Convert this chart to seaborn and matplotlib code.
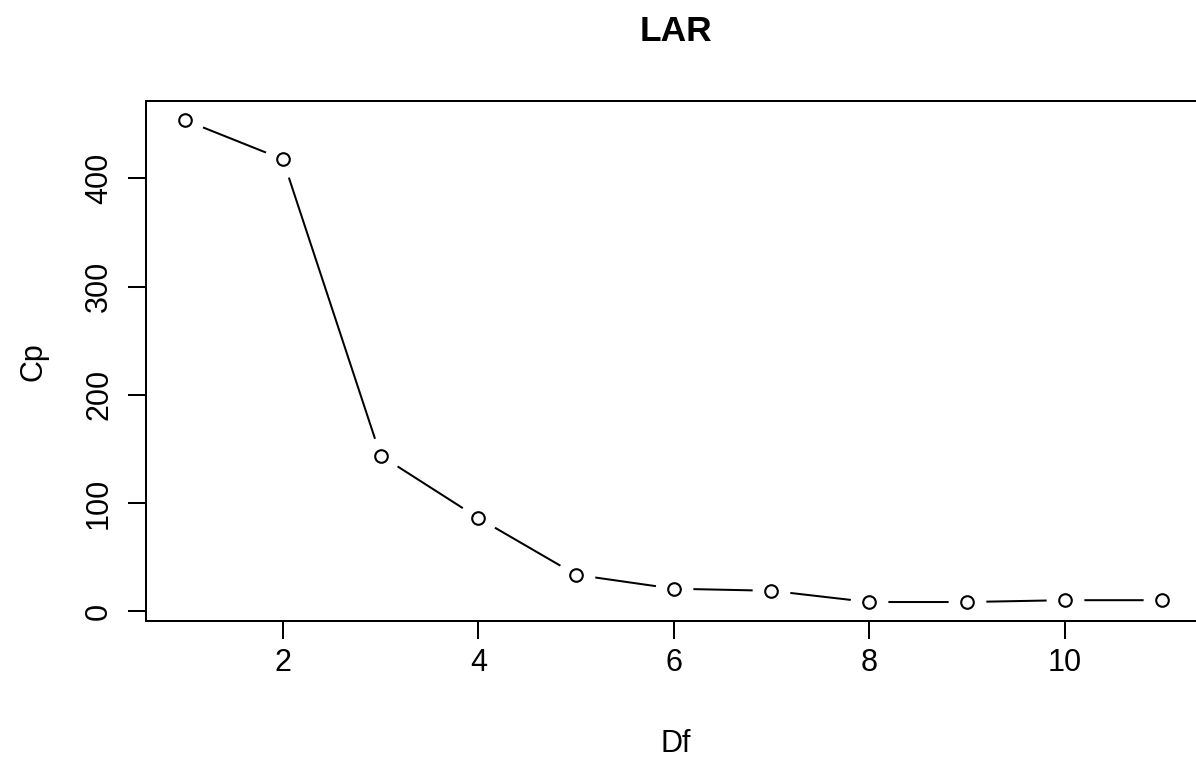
import numpy as np
import pandas as pd
import seaborn as sns
import matplotlib
matplotlib.use('Agg')
import matplotlib.pyplot as plt

df_steps = [1, 2, 3, 4, 5, 6, 7, 8, 9, 10, 11]
cp_values = [453.6, 417.6, 144.0, 86.3, 33.9, 21.0, 19.1, 8.7, 8.7, 10.4, 10.4]
x_ticks = [2, 4, 6, 8, 10]
y_ticks = [0, 100, 200, 300, 400]

sns.set_theme(style='white')
plt.rcParams['font.family'] = ['Liberation Sans', 'DejaVu Sans']

data = pd.DataFrame({'Df': df_steps, 'Cp': cp_values})

fig = plt.figure(figsize=(11.96, 7.71), dpi=100)
W, H = 1196, 771
left, right, bottom, top = 146, 1201.4, 621.3, 101
ax = fig.add_axes([left / W, 1 - bottom / H, (right - left) / W, (bottom - top) / H])

# R type="b": line with gaps around the points
sns.lineplot(data=data, x='Df', y='Cp', color='black', lw=1.45, ax=ax, zorder=1.5)
sns.scatterplot(data=data, x='Df', y='Cp', color='white', s=740, linewidth=0, ax=ax, zorder=2)
sns.scatterplot(data=data, x='Df', y='Cp', facecolor='white', edgecolor='black',
                s=82, linewidth=1.5, ax=ax, zorder=3)


def padded(vals):
    lo, hi = min(vals), max(vals)
    r = hi - lo
    return lo - 0.04 * r, hi + 0.04 * r


ax.set_xlim(padded(df_steps))
ax.set_ylim(padded(cp_values))
ax.set_xticks(x_ticks)
ax.set_yticks(y_ticks)

for s in ax.spines.values():
    s.set_color('black')
    s.set_linewidth(1.45)

ax.tick_params(axis='both', bottom=True, left=True, direction='out', length=13, width=1.45,
               color='black', labelsize=22, labelcolor='black')
ax.tick_params(axis='x', pad=6)
ax.tick_params(axis='y', labelrotation=90, pad=10)
for lab in ax.get_yticklabels():
    lab.set_va('center')

ax.set_xlabel('Df', fontsize=22, color='black', va='center')
ax.set_ylabel('Cp', fontsize=22, color='black', va='center')
ax.xaxis.set_label_coords((676 - left) / (right - left), (bottom - 744) / (bottom - top))
ax.yaxis.set_label_coords((33 - left) / (right - left), (bottom - 362) / (bottom - top))

fig.text(676 / W, 1 - 41 / H, 'LAR', fontsize=25.5, fontweight='bold', color='black',
         ha='center', va='baseline')

fig.savefig('out.png', dpi=100)
